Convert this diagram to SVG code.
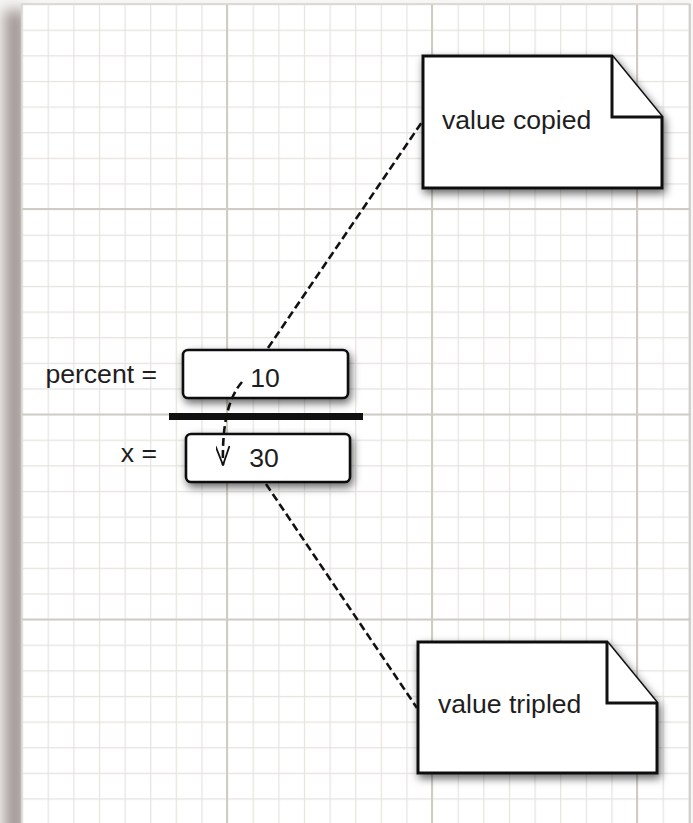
<svg xmlns="http://www.w3.org/2000/svg" width="693" height="823" viewBox="0 0 693 823">
<defs>
<filter id="paperShadow" x="-100%" y="-5%" width="300%" height="110%"><feGaussianBlur stdDeviation="7"/></filter>
<filter id="shadow" x="-20%" y="-20%" width="150%" height="160%"><feDropShadow dx="2" dy="4" stdDeviation="4" flood-color="#000" flood-opacity="0.6"/></filter>
<pattern id="minor" x="22" y="4" width="25.625" height="25.625" patternUnits="userSpaceOnUse">
<path d="M0 0H25.625M0 0V25.625" fill="none" stroke="#e5e3df" stroke-width="2.4"/>
</pattern>
<marker id="vee" viewBox="0 0 20 14" refX="19" refY="7" markerWidth="20" markerHeight="14" markerUnits="userSpaceOnUse" orient="auto">
<path d="M0 0L19 7L0 14" fill="none" stroke="#111" stroke-width="1.8"/>
</marker>
<style>
.lbl{font-family:"Liberation Sans",Arial,Helvetica,sans-serif;font-size:26.6px;fill:#1e1e1e}
.box{fill:#fff;stroke:#111;stroke-width:2.6}
.note{fill:#fff;stroke:#111;stroke-width:3;stroke-linejoin:miter}
.dash{fill:none;stroke:#111;stroke-width:2.6;stroke-dasharray:8 4}
.major{stroke:#cfccc6;stroke-width:2}
</style>
</defs>
<g id="paper">
<rect x="0" y="0" width="693" height="823" fill="#f7f6f5"/>
<rect x="4" y="10" width="22" height="840" fill="#a39a97" filter="url(#paperShadow)"/>
<rect x="21" y="4" width="669" height="830" fill="#fff"/>
<rect x="21" y="4" width="669" height="830" fill="url(#minor)"/>
<g id="major-grid">
<line class="major" x1="227" y1="4" x2="227" y2="823"/>
<line class="major" x1="432" y1="4" x2="432" y2="823"/>
<line class="major" x1="637" y1="4" x2="637" y2="823"/>
<line class="major" x1="21" y1="209" x2="690" y2="209"/>
<line class="major" x1="21" y1="414.5" x2="690" y2="414.5"/>
<line class="major" x1="21" y1="619.5" x2="690" y2="619.5"/>
</g>
<line x1="21" y1="4" x2="690" y2="4" stroke="#dcdad6" stroke-width="2"/>
<line x1="21.5" y1="4" x2="21.5" y2="823" stroke="#d8d5d1" stroke-width="1.5"/>
<line x1="690" y1="4" x2="690" y2="823" stroke="#c9c5c1" stroke-width="1.5"/>
</g>
<g id="bar">
<rect x="169" y="413" width="194" height="7" fill="#111"/>
</g>
<g id="box-percent">
<text class="lbl" x="157" y="383" text-anchor="end">percent =</text>
<rect class="box" x="183" y="350" width="165" height="48" rx="5" filter="url(#shadow)"/>
<text class="lbl" x="265" y="387" text-anchor="middle">10</text>
</g>
<g id="box-x">
<text class="lbl" x="157" y="462" text-anchor="end">x =</text>
<rect class="box" x="186" y="434" width="164" height="48" rx="5" filter="url(#shadow)"/>
<text class="lbl" x="264" y="467" text-anchor="middle">30</text>
</g>
<g id="note-copied">
<path class="note" d="M423 56H612L662 117V188H423Z" filter="url(#shadow)"/>
<path class="note" d="M612 56V117H662" fill="none"/>
<text class="lbl" x="442" y="129">value copied</text>
</g>
<g id="note-tripled">
<path class="note" d="M418 642H607L657 703V773H418Z" filter="url(#shadow)"/>
<path class="note" d="M607 642V703H657" fill="none"/>
<text class="lbl" x="438" y="713">value tripled</text>
</g>
<g id="connectors">
<line class="dash" x1="268" y1="348" x2="422" y2="122"/>
<line class="dash" x1="266" y1="484" x2="417" y2="708"/>
<path class="dash" d="M242 382C228 398 222 425 223 465" marker-end="url(#vee)"/>
</g>
</svg>
